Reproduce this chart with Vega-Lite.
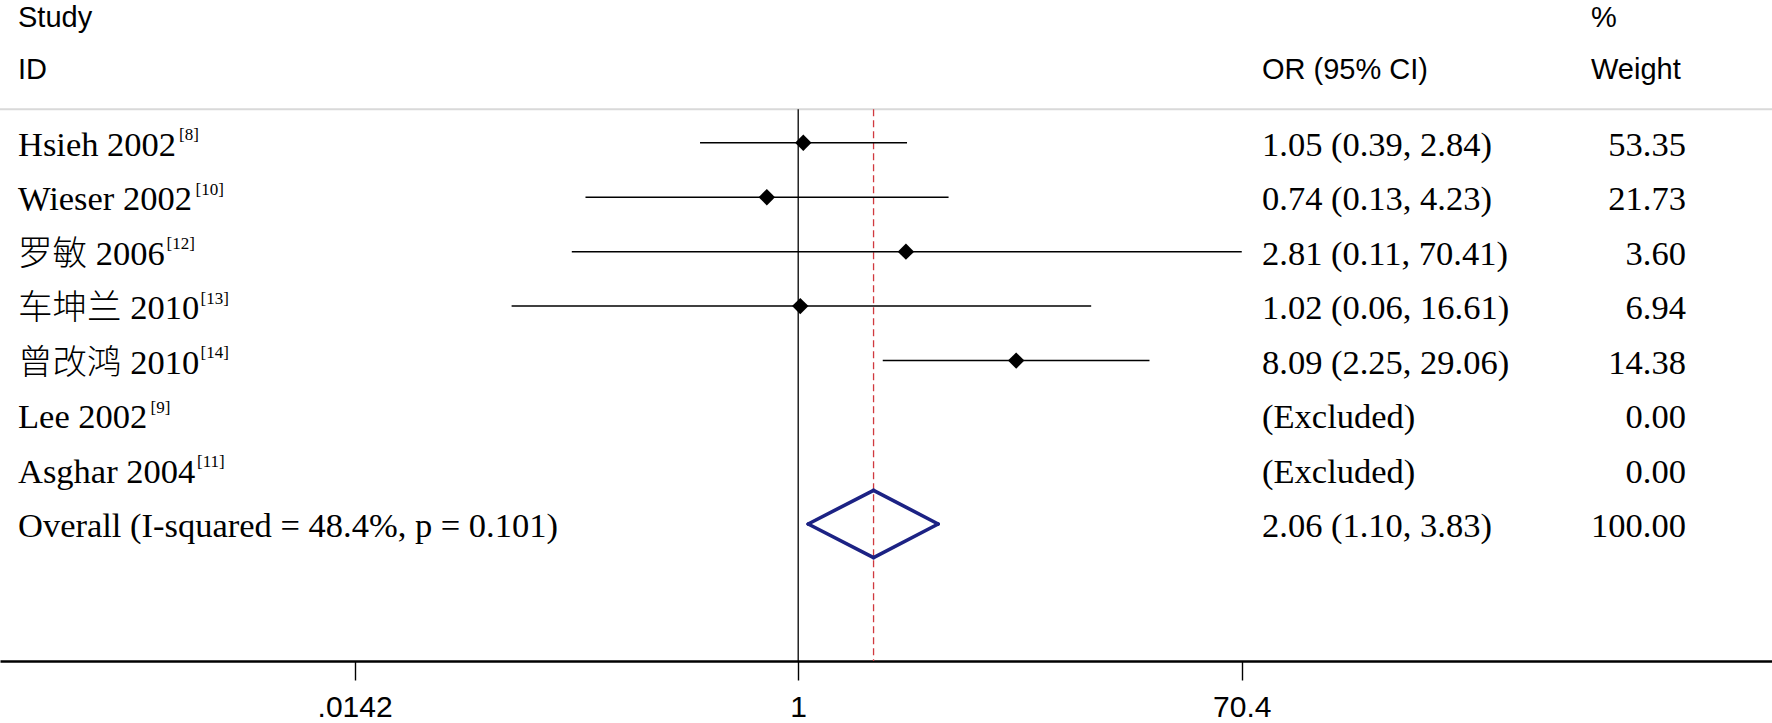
{
  "$schema": "https://vega.github.io/schema/vega-lite/v6.json",
  "width": 1772,
  "height": 661,
  "autosize": {"type": "none"},
  "padding": {"left": 0, "right": 0, "top": 0, "bottom": 62},
  "background": "white",
  "config": {"view": {"stroke": null}},
  "datasets": {
    "studies": [
      {"study": "Hsieh 2002", "ref": "[8]", "or": 1.05, "lci": 0.39, "uci": 2.84, "ci": "1.05 (0.39, 2.84)", "weight": "53.35", "row": 1, "kind": "study"},
      {"study": "Wieser 2002", "ref": "[10]", "or": 0.74, "lci": 0.13, "uci": 4.23, "ci": "0.74 (0.13, 4.23)", "weight": "21.73", "row": 2, "kind": "study"},
      {"study": "罗敏 2006", "ref": "[12]", "or": 2.81, "lci": 0.114, "uci": 70.41, "ci": "2.81 (0.11, 70.41)", "weight": "3.60", "row": 3, "kind": "study"},
      {"study": "车坤兰 2010", "ref": "[13]", "or": 1.02, "lci": 0.064, "uci": 16.61, "ci": "1.02 (0.06, 16.61)", "weight": "6.94", "row": 4, "kind": "study"},
      {"study": "曾改鸿 2010", "ref": "[14]", "or": 8.09, "lci": 2.25, "uci": 29.06, "ci": "8.09 (2.25, 29.06)", "weight": "14.38", "row": 5, "kind": "study"},
      {"study": "Lee 2002", "ref": "[9]", "or": null, "lci": null, "uci": null, "ci": "(Excluded)", "weight": "0.00", "row": 6, "kind": "study"},
      {"study": "Asghar 2004", "ref": "[11]", "or": null, "lci": null, "uci": null, "ci": "(Excluded)", "weight": "0.00", "row": 7, "kind": "study"},
      {"study": "Overall (I-squared = 48.4%, p = 0.101)", "ref": "", "or": 2.06, "lci": 1.10, "uci": 3.83, "ci": "2.06 (1.10, 3.83)", "weight": "100.00", "row": 8, "kind": "overall"}
    ]
  },
  "data": {"name": "studies"},
  "resolve": {"axis": {"x": "independent", "y": "independent"}},
  "layer": [
    {
      "transform": [{"filter": "datum.kind === 'overall'"}],
      "mark": {"type": "rule", "color": "#d9d9d9", "strokeWidth": 2},
      "encoding": {
        "y": {"datum": 0.387, "type": "quantitative", "scale": {"domain": [-1.62, 10.515], "reverse": true, "nice": false, "zero": false}, "axis": null}
      }
    },
    {
      "transform": [{"filter": "datum.kind === 'overall'"}],
      "mark": {"type": "rule", "color": "black", "strokeWidth": 1.3},
      "encoding": {
        "x": {"datum": 1, "type": "quantitative", "scale": {"type": "log", "domain": [0.00047326, 11385.4], "nice": false}, "axis": null},
        "y": {"datum": 0.387, "type": "quantitative", "scale": {"domain": [-1.62, 10.515], "reverse": true, "nice": false, "zero": false}, "axis": null},
        "y2": {"datum": 10.515}
      }
    },
    {
      "transform": [{"filter": "datum.kind === 'overall'"}],
      "mark": {"type": "rule", "color": "#d0393f", "strokeWidth": 1.3, "strokeDash": [7, 4]},
      "encoding": {
        "x": {"field": "or", "type": "quantitative", "scale": {"type": "log", "domain": [0.00047326, 11385.4], "nice": false}, "axis": null},
        "y": {"datum": 0.387, "type": "quantitative", "scale": {"domain": [-1.62, 10.515], "reverse": true, "nice": false, "zero": false}, "axis": null},
        "y2": {"datum": 10.515}
      }
    },
    {
      "transform": [{"filter": "datum.kind === 'study' && isValid(datum.lci)"}],
      "mark": {"type": "rule", "color": "black", "strokeWidth": 1.5},
      "encoding": {
        "x": {
          "field": "lci", "type": "quantitative",
          "scale": {"type": "log", "domain": [0.00047326, 11385.4], "nice": false},
          "axis": {
            "values": [0.0142, 1, 70.4],
            "labelExpr": "replace(toString(datum.value), /^0\\./, '.')",
            "title": null, "grid": false,
            "domainColor": "black", "domainWidth": 2.3,
            "tickColor": "black", "tickWidth": 1.4, "tickSize": 19,
            "labelPadding": 12, "labelFont": "Liberation Sans", "labelFontSize": 30,
            "labelColor": "black", "labelFlush": false, "labelOverlap": false, "labelBound": false
          }
        },
        "x2": {"field": "uci"},
        "y": {"field": "row", "type": "quantitative", "scale": {"domain": [-1.62, 10.515], "reverse": true, "nice": false, "zero": false}, "axis": null}
      }
    },
    {
      "transform": [{"filter": "datum.kind === 'study' && isValid(datum.or)"}],
      "mark": {"type": "point", "shape": "diamond", "filled": true, "size": 270, "color": "black", "opacity": 1, "strokeWidth": 0},
      "encoding": {
        "x": {"field": "or", "type": "quantitative", "scale": {"type": "log", "domain": [0.00047326, 11385.4], "nice": false}, "axis": null},
        "y": {"field": "row", "type": "quantitative", "scale": {"domain": [-1.62, 10.515], "reverse": true, "nice": false, "zero": false}, "axis": null}
      }
    },
    {
      "transform": [{"filter": "datum.kind === 'overall'"}],
      "mark": {"type": "rule", "color": "#1c2284", "strokeWidth": 3.6, "strokeCap": "round", "y2Offset": -33.7},
      "encoding": {
        "x": {"field": "lci", "type": "quantitative", "scale": {"type": "log", "domain": [0.00047326, 11385.4], "nice": false}, "axis": null},
        "x2": {"field": "or"},
        "y": {"field": "row", "type": "quantitative", "scale": {"domain": [-1.62, 10.515], "reverse": true, "nice": false, "zero": false}, "axis": null},
        "y2": {"field": "row"}
      }
    },
    {
      "transform": [{"filter": "datum.kind === 'overall'"}],
      "mark": {"type": "rule", "color": "#1c2284", "strokeWidth": 3.6, "strokeCap": "round", "yOffset": -33.7},
      "encoding": {
        "x": {"field": "or", "type": "quantitative", "scale": {"type": "log", "domain": [0.00047326, 11385.4], "nice": false}, "axis": null},
        "x2": {"field": "uci"},
        "y": {"field": "row", "type": "quantitative", "scale": {"domain": [-1.62, 10.515], "reverse": true, "nice": false, "zero": false}, "axis": null},
        "y2": {"field": "row"}
      }
    },
    {
      "transform": [{"filter": "datum.kind === 'overall'"}],
      "mark": {"type": "rule", "color": "#1c2284", "strokeWidth": 3.6, "strokeCap": "round", "y2Offset": 33.7},
      "encoding": {
        "x": {"field": "uci", "type": "quantitative", "scale": {"type": "log", "domain": [0.00047326, 11385.4], "nice": false}, "axis": null},
        "x2": {"field": "or"},
        "y": {"field": "row", "type": "quantitative", "scale": {"domain": [-1.62, 10.515], "reverse": true, "nice": false, "zero": false}, "axis": null},
        "y2": {"field": "row"}
      }
    },
    {
      "transform": [{"filter": "datum.kind === 'overall'"}],
      "mark": {"type": "rule", "color": "#1c2284", "strokeWidth": 3.6, "strokeCap": "round", "yOffset": 33.7},
      "encoding": {
        "x": {"field": "or", "type": "quantitative", "scale": {"type": "log", "domain": [0.00047326, 11385.4], "nice": false}, "axis": null},
        "x2": {"field": "lci"},
        "y": {"field": "row", "type": "quantitative", "scale": {"domain": [-1.62, 10.515], "reverse": true, "nice": false, "zero": false}, "axis": null},
        "y2": {"field": "row"}
      }
    },
    {
      "mark": {"type": "text", "align": "left", "baseline": "alphabetic", "dy": 13.3, "font": "Liberation Serif, Noto Sans CJK SC", "fontSize": 34.5, "fontWeight": 300, "color": "black"},
      "encoding": {
        "x": {"datum": 0.0005625, "type": "quantitative", "scale": {"type": "log", "domain": [0.00047326, 11385.4], "nice": false}, "axis": null},
        "y": {"field": "row", "type": "quantitative", "scale": {"domain": [-1.62, 10.515], "reverse": true, "nice": false, "zero": false}, "axis": null},
        "text": {"field": "study"}
      }
    },
    {
      "transform": [{"filter": "datum.study === 'Hsieh 2002'"}],
      "mark": {"type": "text", "align": "left", "baseline": "alphabetic", "dx": 161, "dy": -2.3, "font": "Liberation Serif", "fontSize": 17, "color": "black"},
      "encoding": {
        "x": {"datum": 0.0005625, "type": "quantitative", "scale": {"type": "log", "domain": [0.00047326, 11385.4], "nice": false}, "axis": null},
        "y": {"field": "row", "type": "quantitative", "scale": {"domain": [-1.62, 10.515], "reverse": true, "nice": false, "zero": false}, "axis": null},
        "text": {"field": "ref"}
      }
    },
    {
      "transform": [{"filter": "datum.study === 'Wieser 2002'"}],
      "mark": {"type": "text", "align": "left", "baseline": "alphabetic", "dx": 177.5, "dy": -2.3, "font": "Liberation Serif", "fontSize": 17, "color": "black"},
      "encoding": {
        "x": {"datum": 0.0005625, "type": "quantitative", "scale": {"type": "log", "domain": [0.00047326, 11385.4], "nice": false}, "axis": null},
        "y": {"field": "row", "type": "quantitative", "scale": {"domain": [-1.62, 10.515], "reverse": true, "nice": false, "zero": false}, "axis": null},
        "text": {"field": "ref"}
      }
    },
    {
      "transform": [{"filter": "datum.study === '罗敏 2006'"}],
      "mark": {"type": "text", "align": "left", "baseline": "alphabetic", "dx": 148.5, "dy": -2.3, "font": "Liberation Serif", "fontSize": 17, "color": "black"},
      "encoding": {
        "x": {"datum": 0.0005625, "type": "quantitative", "scale": {"type": "log", "domain": [0.00047326, 11385.4], "nice": false}, "axis": null},
        "y": {"field": "row", "type": "quantitative", "scale": {"domain": [-1.62, 10.515], "reverse": true, "nice": false, "zero": false}, "axis": null},
        "text": {"field": "ref"}
      }
    },
    {
      "transform": [{"filter": "datum.study === '车坤兰 2010'"}],
      "mark": {"type": "text", "align": "left", "baseline": "alphabetic", "dx": 182.5, "dy": -2.3, "font": "Liberation Serif", "fontSize": 17, "color": "black"},
      "encoding": {
        "x": {"datum": 0.0005625, "type": "quantitative", "scale": {"type": "log", "domain": [0.00047326, 11385.4], "nice": false}, "axis": null},
        "y": {"field": "row", "type": "quantitative", "scale": {"domain": [-1.62, 10.515], "reverse": true, "nice": false, "zero": false}, "axis": null},
        "text": {"field": "ref"}
      }
    },
    {
      "transform": [{"filter": "datum.study === '曾改鸿 2010'"}],
      "mark": {"type": "text", "align": "left", "baseline": "alphabetic", "dx": 182.5, "dy": -2.3, "font": "Liberation Serif", "fontSize": 17, "color": "black"},
      "encoding": {
        "x": {"datum": 0.0005625, "type": "quantitative", "scale": {"type": "log", "domain": [0.00047326, 11385.4], "nice": false}, "axis": null},
        "y": {"field": "row", "type": "quantitative", "scale": {"domain": [-1.62, 10.515], "reverse": true, "nice": false, "zero": false}, "axis": null},
        "text": {"field": "ref"}
      }
    },
    {
      "transform": [{"filter": "datum.study === 'Lee 2002'"}],
      "mark": {"type": "text", "align": "left", "baseline": "alphabetic", "dx": 132.5, "dy": -2.3, "font": "Liberation Serif", "fontSize": 17, "color": "black"},
      "encoding": {
        "x": {"datum": 0.0005625, "type": "quantitative", "scale": {"type": "log", "domain": [0.00047326, 11385.4], "nice": false}, "axis": null},
        "y": {"field": "row", "type": "quantitative", "scale": {"domain": [-1.62, 10.515], "reverse": true, "nice": false, "zero": false}, "axis": null},
        "text": {"field": "ref"}
      }
    },
    {
      "transform": [{"filter": "datum.study === 'Asghar 2004'"}],
      "mark": {"type": "text", "align": "left", "baseline": "alphabetic", "dx": 179, "dy": -2.3, "font": "Liberation Serif", "fontSize": 17, "color": "black"},
      "encoding": {
        "x": {"datum": 0.0005625, "type": "quantitative", "scale": {"type": "log", "domain": [0.00047326, 11385.4], "nice": false}, "axis": null},
        "y": {"field": "row", "type": "quantitative", "scale": {"domain": [-1.62, 10.515], "reverse": true, "nice": false, "zero": false}, "axis": null},
        "text": {"field": "ref"}
      }
    },
    {
      "mark": {"type": "text", "align": "left", "baseline": "alphabetic", "dy": 13.3, "font": "Liberation Serif", "fontSize": 34.5, "color": "black"},
      "encoding": {
        "x": {"datum": 85.5, "type": "quantitative", "scale": {"type": "log", "domain": [0.00047326, 11385.4], "nice": false}, "axis": null},
        "y": {"field": "row", "type": "quantitative", "scale": {"domain": [-1.62, 10.515], "reverse": true, "nice": false, "zero": false}, "axis": null},
        "text": {"field": "ci"}
      }
    },
    {
      "mark": {"type": "text", "align": "right", "baseline": "alphabetic", "dy": 13.3, "font": "Liberation Serif", "fontSize": 34.5, "color": "black"},
      "encoding": {
        "x": {"datum": 4990, "type": "quantitative", "scale": {"type": "log", "domain": [0.00047326, 11385.4], "nice": false}, "axis": null},
        "y": {"field": "row", "type": "quantitative", "scale": {"domain": [-1.62, 10.515], "reverse": true, "nice": false, "zero": false}, "axis": null},
        "text": {"field": "weight"}
      }
    },
    {
      "data": {"values": [{"h": "Study"}]},
      "mark": {"type": "text", "align": "left", "baseline": "alphabetic", "font": "Liberation Sans", "fontSize": 29, "color": "black"},
      "encoding": {
        "x": {"datum": 0.0005625, "type": "quantitative", "scale": {"type": "log", "domain": [0.00047326, 11385.4], "nice": false}, "axis": null},
        "y": {"datum": -1.133, "type": "quantitative", "scale": {"domain": [-1.62, 10.515], "reverse": true, "nice": false, "zero": false}, "axis": null},
        "text": {"field": "h"}
      }
    },
    {
      "data": {"values": [{"h": "ID"}]},
      "mark": {"type": "text", "align": "left", "baseline": "alphabetic", "font": "Liberation Sans", "fontSize": 29, "color": "black"},
      "encoding": {
        "x": {"datum": 0.0005625, "type": "quantitative", "scale": {"type": "log", "domain": [0.00047326, 11385.4], "nice": false}, "axis": null},
        "y": {"datum": -0.175, "type": "quantitative", "scale": {"domain": [-1.62, 10.515], "reverse": true, "nice": false, "zero": false}, "axis": null},
        "text": {"field": "h"}
      }
    },
    {
      "data": {"values": [{"h": "OR (95% CI)"}]},
      "mark": {"type": "text", "align": "left", "baseline": "alphabetic", "font": "Liberation Sans", "fontSize": 29, "color": "black"},
      "encoding": {
        "x": {"datum": 85.5, "type": "quantitative", "scale": {"type": "log", "domain": [0.00047326, 11385.4], "nice": false}, "axis": null},
        "y": {"datum": -0.175, "type": "quantitative", "scale": {"domain": [-1.62, 10.515], "reverse": true, "nice": false, "zero": false}, "axis": null},
        "text": {"field": "h"}
      }
    },
    {
      "data": {"values": [{"h": "%"}]},
      "mark": {"type": "text", "align": "left", "baseline": "alphabetic", "font": "Liberation Sans", "fontSize": 29, "color": "black"},
      "encoding": {
        "x": {"datum": 2006.4, "type": "quantitative", "scale": {"type": "log", "domain": [0.00047326, 11385.4], "nice": false}, "axis": null},
        "y": {"datum": -1.133, "type": "quantitative", "scale": {"domain": [-1.62, 10.515], "reverse": true, "nice": false, "zero": false}, "axis": null},
        "text": {"field": "h"}
      }
    },
    {
      "data": {"values": [{"h": "Weight"}]},
      "mark": {"type": "text", "align": "left", "baseline": "alphabetic", "font": "Liberation Sans", "fontSize": 29, "color": "black"},
      "encoding": {
        "x": {"datum": 2006.4, "type": "quantitative", "scale": {"type": "log", "domain": [0.00047326, 11385.4], "nice": false}, "axis": null},
        "y": {"datum": -0.175, "type": "quantitative", "scale": {"domain": [-1.62, 10.515], "reverse": true, "nice": false, "zero": false}, "axis": null},
        "text": {"field": "h"}
      }
    }
  ]
}
